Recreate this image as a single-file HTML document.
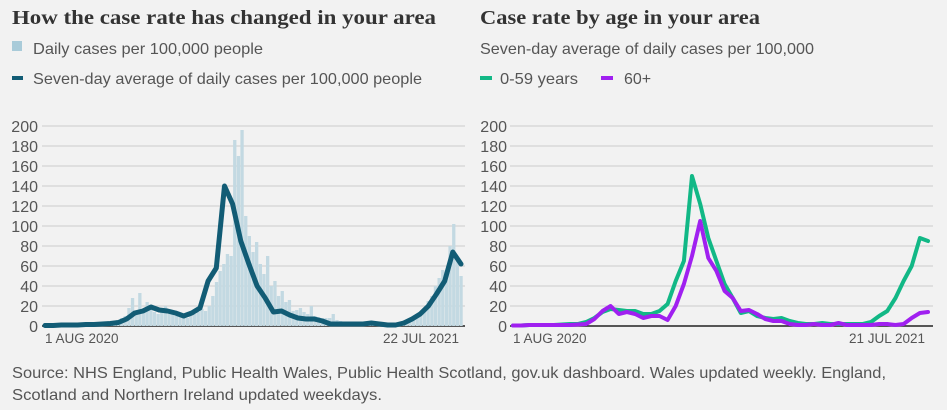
<!DOCTYPE html>
<html><head><meta charset="utf-8"><style>
body{margin:0;background:#f2f2f2;width:947px;height:410px;overflow:hidden;font-family:"Liberation Sans",sans-serif}
svg{position:absolute;left:0;top:0}
</style></head><body>
<svg id="c" width="947" height="410" xmlns="http://www.w3.org/2000/svg">
<text x="12" y="24" font-family="Liberation Serif,serif" font-weight="bold" font-size="20" fill="#333" textLength="424" lengthAdjust="spacingAndGlyphs">How the case rate has changed in your area</text>
<rect x="12" y="41" width="10" height="10" fill="#a9cbd9"/>
<text x="33" y="54" font-size="16" fill="#555" textLength="230" lengthAdjust="spacingAndGlyphs">Daily cases per 100,000 people</text>
<rect x="12" y="76" width="11" height="4" fill="#125c75"/>
<text x="33" y="84" font-size="16" fill="#555" textLength="389" lengthAdjust="spacingAndGlyphs">Seven-day average of daily cases per 100,000 people</text>
<text x="480" y="24" font-family="Liberation Serif,serif" font-weight="bold" font-size="20" fill="#333" textLength="280" lengthAdjust="spacingAndGlyphs">Case rate by age in your area</text>
<text x="480" y="54" font-size="16" fill="#555" textLength="334" lengthAdjust="spacingAndGlyphs">Seven-day average of daily cases per 100,000</text>
<rect x="480" y="76" width="12" height="4" fill="#12b886"/>
<text x="500" y="84" font-size="16" fill="#555" textLength="78" lengthAdjust="spacingAndGlyphs">0-59 years</text>
<rect x="601" y="76" width="12" height="4" fill="#a020f0"/>
<text x="624" y="84" font-size="16" fill="#555">60+</text>
<text x="12" y="378" font-size="16" fill="#555" textLength="874" lengthAdjust="spacingAndGlyphs">Source: NHS England, Public Health Wales, Public Health Scotland, gov.uk dashboard. Wales updated weekly. England,</text>
<text x="12" y="400" font-size="16" fill="#555" textLength="370" lengthAdjust="spacingAndGlyphs">Scotland and Northern Ireland updated weekdays.</text>
<g id="L"></g><g id="R"></g>
</svg>
<script>
const yTicks=[0,20,40,60,80,100,120,140,160,180,200];
const avgWeekly=[0.5,0.5,1,1,1,1.5,1.5,2,2.5,3.5,7,13,15,19,16,15,13,10,13,18,45,58,140,122,85,62,40,28,14,15,11,8,7,7,5,2,2,2,2,2,3,2,1,1,3,7,12,20,32,45,74,62];
const dailyHalfWeek=[0,1,0,1,1,1,1,2,1,1,2,1,2,2,1,2,2,3,3,4,6,8,10,18,28,14,33,16,24,18,14,12,15,20,12,14,10,12,9,8,10,12,14,17,15,20,30,44,55,62,72,70,186,170,196,110,90,74,84,62,52,70,40,45,30,35,24,26,15,16,18,14,12,20,10,9,8,8,8,12,6,5,3,3,2,3,2,2,2,2,3,3,2,2,2,2,3,2,2,2,5,8,10,12,18,25,30,40,48,56,52,80,102,65,50];
const youngWeekly=[0.5,0.5,1,1,1,1,1.5,2,2,4,8,14,17,16,15,15,12,12,15,22,45,65,150,122,88,65,42,28,13,15,10,8,7,8,5,3,2,2,3,2,2,2,2,2,4,10,15,28,45,60,88,85];
const oldWeekly=[0.5,0.5,1,1,1,1,1,1,1.5,2,7,15,20,12,14,12,8,10,10,6,20,42,70,105,68,55,35,28,15,16,12,7,5,5,2,1,1,2,1,1,3,1,1,1,1,2,2,1,2,8,13,14];
const xLabelsL=["1 AUG 2020","22 JUL 2021"],xLabelsR=["1 AUG 2020","21 JUL 2021"];
const NS="http://www.w3.org/2000/svg";
function mk(t,a,p){const e=document.createElementNS(NS,t);for(const k in a)e.setAttribute(k,a[k]);p.appendChild(e);return e;}
function yS(v){return 326-v*1.0;}
function axes(g,x0,x1,lx,labs,xa,xb){
 yTicks.forEach(t=>{
  const l=mk('line',{x1:x0,x2:x1,y1:yS(t),y2:yS(t),stroke:t?'#cccccc':'#222','stroke-width':t?1:1.5},g);
  
  
  const tx=mk('text',{x:lx,y:yS(t)+6,'text-anchor':'end','font-size':16,fill:'#555'},g);tx.textContent=t;
  
  
 });
 const a=mk('text',{x:xa,y:343,'font-size':13.5,fill:'#555'},g);a.textContent=labs[0];
 
 
 const b=mk('text',{x:xb,y:343,'font-size':13.5,fill:'#555','text-anchor':'end'},g);b.textContent=labs[1];
 
 
}
function line(g,arr,xs,xe,col,w,name){
 const n=arr.length-1;const pts=arr.map((v,i)=>(xs+(xe-xs)*i/n).toFixed(1)+','+yS(v).toFixed(1)).join(' ');
 const p=mk('polyline',{points:pts,fill:'none',stroke:col,'stroke-width':w,'stroke-linejoin':'round','stroke-linecap':'round'},g);
 
 
}
const L=document.getElementById('L'),R=document.getElementById('R');
axes(L,42,465,38,xLabelsL,45,459);
const n=dailyHalfWeek.length-1,bw=(461-45)/n;
dailyHalfWeek.forEach((v,i)=>{
 const x=45+bw*i;
 const r=mk('rect',{x:(x-bw*0.45).toFixed(1),y:yS(v),width:(bw*0.9).toFixed(1),height:326-yS(v),fill:'#c3d9e2'},L);
 
 
});
line(L,avgWeekly,45,461,'#125c75',5,'average-line');
axes(R,510,933,507,xLabelsR,513,925);
line(R,youngWeekly,513,928,'#12b886',4,'line-0-59');
line(R,oldWeekly,513,928,'#a020f0',4,'line-60plus');
</script>
</body></html>
